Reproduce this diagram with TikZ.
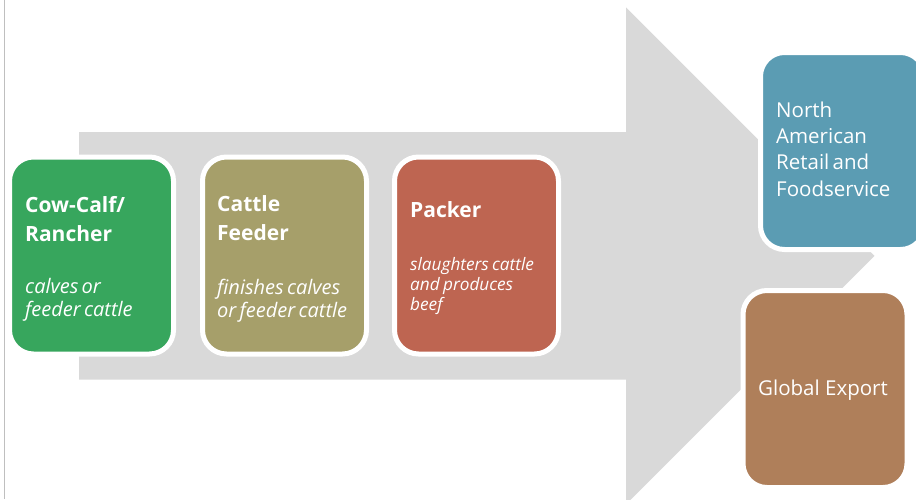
\documentclass[tikz,border=0pt]{standalone}
\usepackage{fontspec}
\setmainfont{Open Sans}
\definecolor{cgreen}{HTML}{37A65D}
\definecolor{colive}{HTML}{A69F6A}
\definecolor{cred}{HTML}{BE6551}
\definecolor{cteal}{HTML}{5B9CB3}
\definecolor{cbrown}{HTML}{AF7F5A}
\definecolor{carrow}{HTML}{D9D9D9}
\definecolor{cline}{HTML}{BFBFBF}
\newcommand{\titlef}{\fontsize{21}{29}\selectfont\bfseries}
\newcommand{\descf}{\fontsize{20}{23}\selectfont\normalfont\itshape}
\newcommand{\descsf}{\fontsize{17.2}{20}\selectfont\normalfont\itshape}
\newcommand{\destf}{\fontsize{20.5}{26.3}\selectfont}
\tikzset{
  stagebox/.style={draw=white, line width=5pt, rounded corners=24pt,
    minimum width=164pt, minimum height=197pt, inner sep=0pt},
  boxtext/.style={text=white, inner sep=0pt, anchor=base west, align=left, text width=150pt},
}
\begin{document}
\begin{tikzpicture}[x=1pt,y=-1pt]
\clip (0,0) rectangle (916,499);
\fill[white] (0,0) rectangle (916,499);
\draw[cline, line width=1.5pt] (4.5,0) -- (4.5,499);
\fill[carrow] (79,132) -- (626,132) -- (626,7.3) -- (874.5,255.8) -- (626,504.3)
  -- (626,379.7) -- (79,379.7) -- cycle;
\node[stagebox, fill=cgreen] (cow) at (91.5,255.5) {};
\node[stagebox, fill=colive] (feeder) at (284.5,255.5) {};
\node[stagebox, fill=cred] (packer) at (476.5,255.5) {};
\node[stagebox, fill=cteal] (retail) at (842.5,151) {};
\node[stagebox, fill=cbrown] (export) at (825,389) {};
\node[boxtext] (cowtxt) at (25,212) {{\titlef Cow-Calf/\\Rancher\par}\vspace{29pt}{\descf calves or\\feeder cattle\par}};
\node[boxtext] (feedertxt) at (217,211) {{\titlef Cattle\\Feeder\par}\vspace{31pt}{\descf finishes calves\\or feeder cattle\par}};
\node[boxtext] (packertxt) at (410,217) {{\titlef Packer\par}\vspace{33pt}{\descsf slaughters cattle\\and produces\\beef\par}};
\node[boxtext] (retailtxt) at (776,117.3) {\destf North\\American\\Retail and\\Foodservice\par};
\node[text=white, inner sep=0pt, anchor=base] (exporttxt) at (823,395) {\destf Global Export};
\end{tikzpicture}
\end{document}
